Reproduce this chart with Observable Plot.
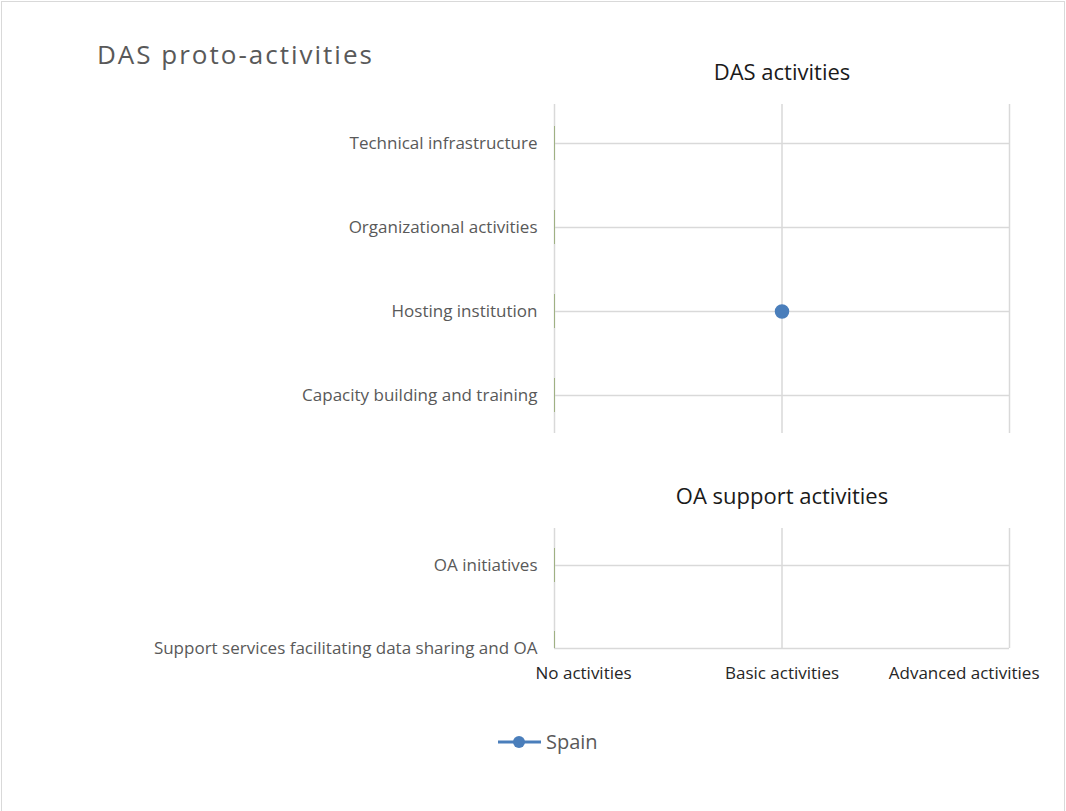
<!DOCTYPE html>
<html>
<head>
<meta charset="utf-8">
<script src="https://cdn.jsdelivr.net/npm/d3@7"></script>
<script src="https://cdn.jsdelivr.net/npm/@observablehq/plot@0.6"></script>
<style>
  html, body { margin: 0; padding: 0; background: #fff; }
  #chart { position: relative; width: 1066px; height: 811px; font-family: "Open Sans", sans-serif; overflow: hidden; }
  #frame { position: absolute; left: 1px; top: 1px; width: 1064px; height: 820px; border: 1.5px solid #d9d9d9; box-sizing: border-box; }
  #title { position: absolute; left: 97px; top: 36px; font-size: 26px; color: #595959; letter-spacing: 2px; white-space: nowrap; }
  .panel { position: absolute; left: 0; }
  #legend { position: absolute; left: 497px; top: 728px; display: flex; align-items: center; font-size: 20px; color: #595959; }
</style>
</head>
<body>
<div id="chart">
  <div id="frame"></div>
  <div id="title"></div>
</div>
<script>
// ---- data ----
const chartTitle = "DAS proto-activities";
const dasTitle = "DAS activities";
const oaTitle = "OA support activities";
const dasCategories = ["Technical infrastructure", "Organizational activities", "Hosting institution", "Capacity building and training"];
const oaCategories = ["OA initiatives", "Support services facilitating data sharing and OA"];
const levelLabels = ["No activities", "Basic activities", "Advanced activities"];
const seriesName = "Spain";
// Spain's level per category (0 = No, 1 = Basic, 2 = Advanced; null = not shown)
const spainDas = [null, null, 1, null];
const spainOa = [null, null];

// ---- styles ----
const gridColor = "#d9d9d9";
const tickColor = "#9fb183";
const seriesColor = "#4a7ebb";
const labelColor = "#595959";
const levels = levelLabels.map((d, i) => i);

document.getElementById("title").textContent = chartTitle;
const chart = document.getElementById("chart");

function panel({categories, values, title, top, height, marginTop, marginBottom, yRange, showX}) {
  const rows = categories.map((c, i) => ({category: c, level: values[i]})).filter(d => d.level != null);
  const marks = [
    Plot.ruleX(levels, {x: d => d, stroke: gridColor, strokeWidth: 1.5}),
    Plot.ruleY(categories, {y: d => d, stroke: gridColor, strokeWidth: 1.5}),
    Plot.ruleX(categories, {x: () => 0, y1: d => d, y2: d => d, insetTop: -17, insetBottom: -17, dx: -1, stroke: tickColor, strokeWidth: 3, clip: true}),
    Plot.axisY({tickSize: 0, tickPadding: 17, fontSize: 17, fill: labelColor, label: null}),
    Plot.dot(rows, {x: "level", y: "category", r: 6.5, fill: seriesColor, stroke: seriesColor}),
    Plot.text([title], {frameAnchor: "top", dy: -40, fontSize: 22, fill: "#1a1a1a"})
  ];
  if (showX) {
    const anchors = ["start", "middle", "end"];
    const shifts = [-19, 0, 30];
    levels.forEach(i => {
      marks.push(Plot.axisX({ticks: [i], tickFormat: d => levelLabels[d], tickSize: 0, tickPadding: 18, fontSize: 17, fill: "#262626", textAnchor: anchors[i], dx: shifts[i], label: null}));
    });
  }
  const svg = Plot.plot({
    width: 1066, height,
    marginLeft: 554, marginRight: 57, marginTop, marginBottom,
    style: {fontFamily: "Open Sans, sans-serif", background: "transparent", overflow: "visible"},
    x: {domain: [0, 2], axis: null, label: null},
    y: {type: "point", domain: categories, range: yRange, padding: 0, axis: null, label: null},
    marks
  });
  svg.classList.add("panel");
  svg.style.top = top + "px";
  chart.appendChild(svg);
}

panel({categories: dasCategories, values: spainDas, title: dasTitle, top: 0, height: 440, marginTop: 104, marginBottom: 7, yRange: [142.3, 395.7], showX: false});
panel({categories: oaCategories, values: spainOa, title: oaTitle, top: 460, height: 230, marginTop: 68, marginBottom: 42, yRange: [105, 188], showX: true});

// legend
const legend = document.createElement("div");
legend.id = "legend";
legend.innerHTML = `<svg width="46" height="20" style="margin-right:3px"><line x1="1" x2="44" y1="10" y2="10" stroke="${seriesColor}" stroke-width="3"/><circle cx="22" cy="10" r="6" fill="${seriesColor}"/></svg><span>${seriesName}</span>`;
chart.appendChild(legend);
</script>
</body>
</html>
